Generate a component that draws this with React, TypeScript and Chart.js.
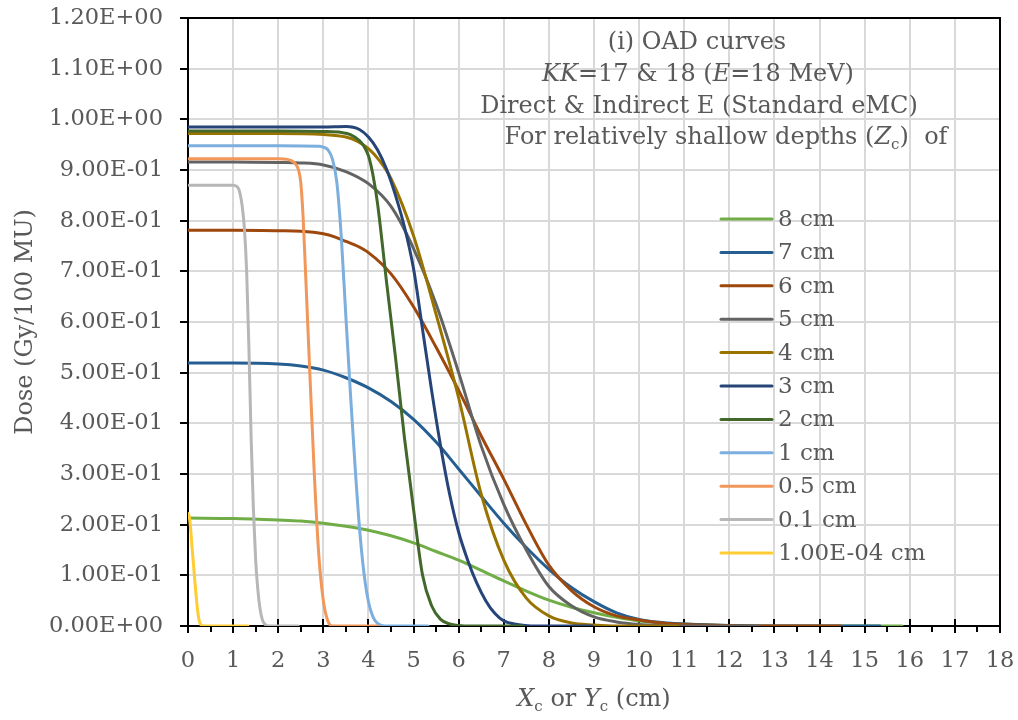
import React, { useEffect, useRef } from 'react';
import { Chart, registerables } from 'chart.js';

Chart.register(...registerables);

// ---------- data ----------
const seriesLabels = ['8 cm', '7 cm', '6 cm', '5 cm', '4 cm', '3 cm', '2 cm', '1 cm', '0.5 cm', '0.1 cm', '1.00E-04 cm'];
const seriesColors = ['#70AD47', '#255E91', '#9E480E', '#636363', '#997300', '#264478', '#43682B', '#7CAFDD', '#F1975A', '#B7B7B7', '#FFCD33'];

const x8 = [0, 1, 2, 2.5, 3, 3.5, 4, 4.5, 5, 5.5, 6, 6.5, 7, 7.5, 8, 8.5, 9, 9.5, 10, 10.5, 11, 12, 13, 15.83];
const y8 = [0.213, 0.212, 0.209, 0.207, 0.203, 0.197, 0.189, 0.178, 0.164, 0.147, 0.13, 0.11, 0.089, 0.069, 0.051, 0.037, 0.026, 0.017, 0.01, 0.006, 0.004, 0.001, 0, 0];

const x7 = [0, 1, 2, 2.5, 3, 3.5, 4, 4.5, 5, 5.5, 6, 6.5, 7, 7.5, 8, 8.5, 9, 9.5, 10, 10.5, 11, 12, 13, 15.34];
const y7 = [0.519, 0.519, 0.517, 0.513, 0.505, 0.49, 0.47, 0.443, 0.408, 0.363, 0.31, 0.256, 0.203, 0.155, 0.112, 0.076, 0.048, 0.026, 0.013, 0.007, 0.004, 0.001, 0, 0];

const x6 = [0, 1, 2, 2.5, 3, 3.25, 3.5, 3.75, 4, 4.5, 5, 5.5, 6, 6.5, 7, 7.5, 8, 8.5, 9, 9.5, 10, 10.5, 11, 12, 12.5, 14.46];
const y6 = [0.781, 0.781, 0.78, 0.779, 0.774, 0.768, 0.759, 0.75, 0.737, 0.695, 0.63, 0.55, 0.465, 0.375, 0.29, 0.2, 0.12, 0.07, 0.038, 0.02, 0.012, 0.006, 0.003, 0.001, 0, 0];

const x5 = [0, 1, 2, 2.5, 3, 3.5, 4, 4.5, 5, 5.5, 6, 6.5, 7, 7.5, 8, 8.5, 9, 9.5, 10, 10.5, 11, 12.64];
const y5 = [0.916, 0.916, 0.915, 0.914, 0.91, 0.897, 0.873, 0.828, 0.745, 0.635, 0.5, 0.355, 0.24, 0.15, 0.078, 0.04, 0.018, 0.008, 0.003, 0.001, 0, 0];

const x4 = [0, 1, 2, 3, 3.5, 3.75, 4, 4.25, 4.5, 5, 5.5, 6, 6.5, 7, 7.5, 8, 8.5, 9, 9.5, 10.86];
const y4 = [0.972, 0.972, 0.972, 0.97, 0.965, 0.957, 0.942, 0.918, 0.883, 0.77, 0.615, 0.45, 0.26, 0.13, 0.055, 0.02, 0.006, 0.002, 0, 0];

const x3 = [0, 1, 2, 3, 3.5, 3.8, 4.0, 4.2, 4.4, 4.6, 4.8, 5.0, 5.2, 5.4, 5.6, 5.8, 6.0, 6.2, 6.4, 6.6, 6.8, 7.0, 7.3, 7.6, 8.96];
const y3 = [0.985, 0.985, 0.985, 0.985, 0.986, 0.98, 0.965, 0.94, 0.902, 0.85, 0.787, 0.705, 0.585, 0.465, 0.355, 0.26, 0.185, 0.13, 0.085, 0.05, 0.025, 0.01, 0.003, 0, 0];

const x2 = [0, 1, 2, 3, 3.4, 3.6, 3.8, 3.9, 4.0, 4.1, 4.2, 4.4, 4.6, 4.8, 5.0, 5.2, 5.4, 5.6, 5.8, 6.0, 6.3, 7.43];
const y2 = [0.977, 0.977, 0.977, 0.976, 0.974, 0.97, 0.958, 0.947, 0.928, 0.89, 0.835, 0.68, 0.53, 0.37, 0.23, 0.1, 0.04, 0.013, 0.004, 0.001, 0, 0];

const x1 = [0, 1, 2, 2.9, 3.0, 3.1, 3.2, 3.3, 3.4, 3.5, 3.6, 3.7, 3.8, 3.9, 4.0, 4.1, 4.2, 4.35, 5.32];
const y1 = [0.948, 0.948, 0.948, 0.947, 0.945, 0.94, 0.922, 0.875, 0.765, 0.61, 0.46, 0.32, 0.195, 0.105, 0.048, 0.018, 0.005, 0, 0];

const x05 = [0, 1, 2, 2.2, 2.3, 2.4, 2.45, 2.5, 2.55, 2.6, 2.7, 2.8, 2.9, 3.0, 3.1, 3.2, 4.21];
const y05 = [0.922, 0.922, 0.922, 0.921, 0.918, 0.91, 0.9, 0.875, 0.81, 0.71, 0.5, 0.3, 0.14, 0.05, 0.01, 0, 0];

const x01 = [0, 1, 1.1, 1.15, 1.2, 1.25, 1.3, 1.35, 1.4, 1.45, 1.5, 1.55, 1.6, 1.65, 1.7, 1.8, 2.44];
const y01 = [0.87, 0.87, 0.866, 0.855, 0.83, 0.785, 0.7, 0.55, 0.37, 0.23, 0.13, 0.07, 0.032, 0.012, 0.004, 0, 0];

const x0001 = [0, 0.03, 0.06, 0.09, 0.12, 0.15, 0.18, 0.21, 0.24, 0.27, 0.3, 0.35, 1.33];
const y0001 = [0.222, 0.215, 0.19, 0.155, 0.123, 0.09, 0.06, 0.033, 0.014, 0.005, 0.001, 0, 0];

const xSeries = [x8, x7, x6, x5, x4, x3, x2, x1, x05, x01, x0001];
const ySeries = [y8, y7, y6, y5, y4, y3, y2, y1, y05, y01, y0001];

const xMin = 0;
const xMax = 18;
const yMin = 0;
const yMax = 1.2;

type Seg = { t: string; i?: boolean; sub?: boolean };
const titleLines: Seg[][] = [
  [{ t: '(i) OAD curves' }],
  [{ t: 'KK', i: true }, { t: '=17 & 18 (' }, { t: 'E', i: true }, { t: '=18 MeV)' }],
  [{ t: 'Direct & Indirect E (Standard eMC)' }],
  [{ t: 'For relatively shallow depths (' }, { t: 'Z', i: true }, { t: 'c', sub: true }, { t: ')  of' }],
];
const xTitle: Seg[] = [{ t: 'X', i: true }, { t: 'c', sub: true }, { t: ' or ' }, { t: 'Y', i: true }, { t: 'c', sub: true }, { t: ' (cm)' }];
const yTitle = 'Dose (Gy/100 MU)';

// ---------- style ----------
const FONT = "'DejaVu Serif', serif";
const TEXT = '#595959';

function fmtExp(v: number): string {
  const s = Number(v).toExponential(2);
  const [m, e] = s.split('e');
  const sign = e[0] === '-' ? '-' : '+';
  const d = e.replace(/^[+-]/, '').padStart(2, '0');
  return `${m}E${sign}${d}`;
}

function drawRich(ctx: CanvasRenderingContext2D, segs: Seg[], cx: number, baseline: number, size: number) {
  const fontFor = (s: Seg) => `${s.i ? 'italic ' : ''}${s.sub ? Math.round(size * 0.62) : size}px ${FONT}`;
  let total = 0;
  const widths = segs.map((s) => {
    ctx.font = fontFor(s);
    const w = ctx.measureText(s.t).width;
    total += w;
    return w;
  });
  let x = cx - total / 2;
  ctx.textAlign = 'left';
  ctx.textBaseline = 'alphabetic';
  segs.forEach((s, k) => {
    ctx.font = fontFor(s);
    ctx.fillText(s.t, x, baseline + (s.sub ? size * 0.22 : 0));
    x += widths[k];
  });
}

const decorPlugin = {
  id: 'decor',
  beforeDatasetsDraw(chart: any) {
    const { ctx, chartArea, scales } = chart;
    const { left, right, top, bottom } = chartArea;
    const xs = scales.x;
    const ys = scales.y;
    ctx.save();
    ctx.strokeStyle = '#000';
    ctx.lineWidth = 2;
    ctx.strokeRect(left, top, right - left, bottom - top);
    ctx.beginPath();
    ys.ticks.forEach((t: any) => {
      const py = Math.round(ys.getPixelForValue(t.value));
      ctx.moveTo(left - 8, py);
      ctx.lineTo(left, py);
    });
    xs.ticks.forEach((t: any) => {
      const px = Math.round(xs.getPixelForValue(t.value));
      ctx.moveTo(px, bottom - 7);
      ctx.lineTo(px, bottom + 7);
      if (t.value < xMax) {
        const pm = Math.round(xs.getPixelForValue(t.value + 0.5));
        ctx.moveTo(pm, bottom);
        ctx.lineTo(pm, bottom + 6);
      }
    });
    ctx.stroke();
    ctx.restore();
  },
  afterDraw(chart: any) {
    const { ctx, chartArea } = chart;
    ctx.save();
    ctx.fillStyle = TEXT;
    const centers = [697, 698, 699, 726];
    const baselines = [49, 81, 113, 144];
    titleLines.forEach((line, k) => drawRich(ctx, line, centers[k], baselines[k], 24));
    chart.data.datasets.forEach((ds: any, k: number) => {
      const cy = 219 + k * 33.4;
      ctx.strokeStyle = ds.borderColor;
      ctx.lineWidth = 3;
      ctx.lineCap = 'round';
      ctx.beginPath();
      ctx.moveTo(721, cy);
      ctx.lineTo(772, cy);
      ctx.stroke();
      ctx.font = `23px ${FONT}`;
      ctx.textAlign = 'left';
      ctx.textBaseline = 'middle';
      ctx.fillStyle = TEXT;
      ctx.fillText(ds.label, 778, cy + 1);
    });
    drawRich(ctx, xTitle, (chartArea.left + chartArea.right) / 2, 706, 24);
    ctx.translate(26, (chartArea.top + chartArea.bottom) / 2);
    ctx.rotate(-Math.PI / 2);
    ctx.font = `24px ${FONT}`;
    ctx.textAlign = 'center';
    ctx.textBaseline = 'middle';
    ctx.fillText(yTitle, 0, 0);
    ctx.restore();
  },
};

export default function App() {
  const ref = useRef<HTMLCanvasElement | null>(null);
  useEffect(() => {
    if (!ref.current) return;
    const datasets = seriesLabels.map((label, k) => ({
      label,
      data: xSeries[k].map((x, j) => ({ x, y: ySeries[k][j] })),
      borderColor: seriesColors[k],
      backgroundColor: seriesColors[k],
      borderWidth: 3,
      pointRadius: 0,
      fill: false,
      cubicInterpolationMode: 'monotone' as const,
      borderCapStyle: 'round' as const,
      borderJoinStyle: 'round' as const,
      order: -k,
    }));
    const tickFont = { family: FONT, size: 22.5 };
    const chart = new Chart(ref.current, {
      type: 'line',
      data: { datasets },
      options: {
        animation: false,
        responsive: false,
        events: [],
        layout: { padding: { top: 18, right: 18, left: 0, bottom: 0 } },
        plugins: { legend: { display: false }, tooltip: { enabled: false }, title: { display: false } },
        scales: {
          x: {
            type: 'linear',
            min: xMin,
            max: xMax,
            ticks: { stepSize: 1, color: TEXT, font: tickFont, padding: 22, maxRotation: 0, autoSkip: false },
            grid: { color: '#d9d9d9', lineWidth: 2, drawTicks: false },
            border: { display: false },
            afterFit: (s: any) => { s.height = 94; s.paddingLeft = 0; s.paddingRight = 0; },
          },
          y: {
            type: 'linear',
            min: yMin,
            max: yMax,
            ticks: { stepSize: 0.1, color: TEXT, font: tickFont, padding: 25, callback: (v: any) => fmtExp(Number(v)) },
            grid: { color: '#d9d9d9', lineWidth: 2, drawTicks: false },
            border: { display: false },
            afterFit: (s: any) => { s.width = 188; s.paddingTop = 0; s.paddingBottom = 0; },
          },
        },
      },
      plugins: [decorPlugin],
    });
    return () => chart.destroy();
  }, []);
  return (
    <div style={{ position: 'absolute', left: 0, top: 0, width: 1018, height: 720, background: '#fff' }}>
      <canvas ref={ref} width={1018} height={720} />
    </div>
  );
}
